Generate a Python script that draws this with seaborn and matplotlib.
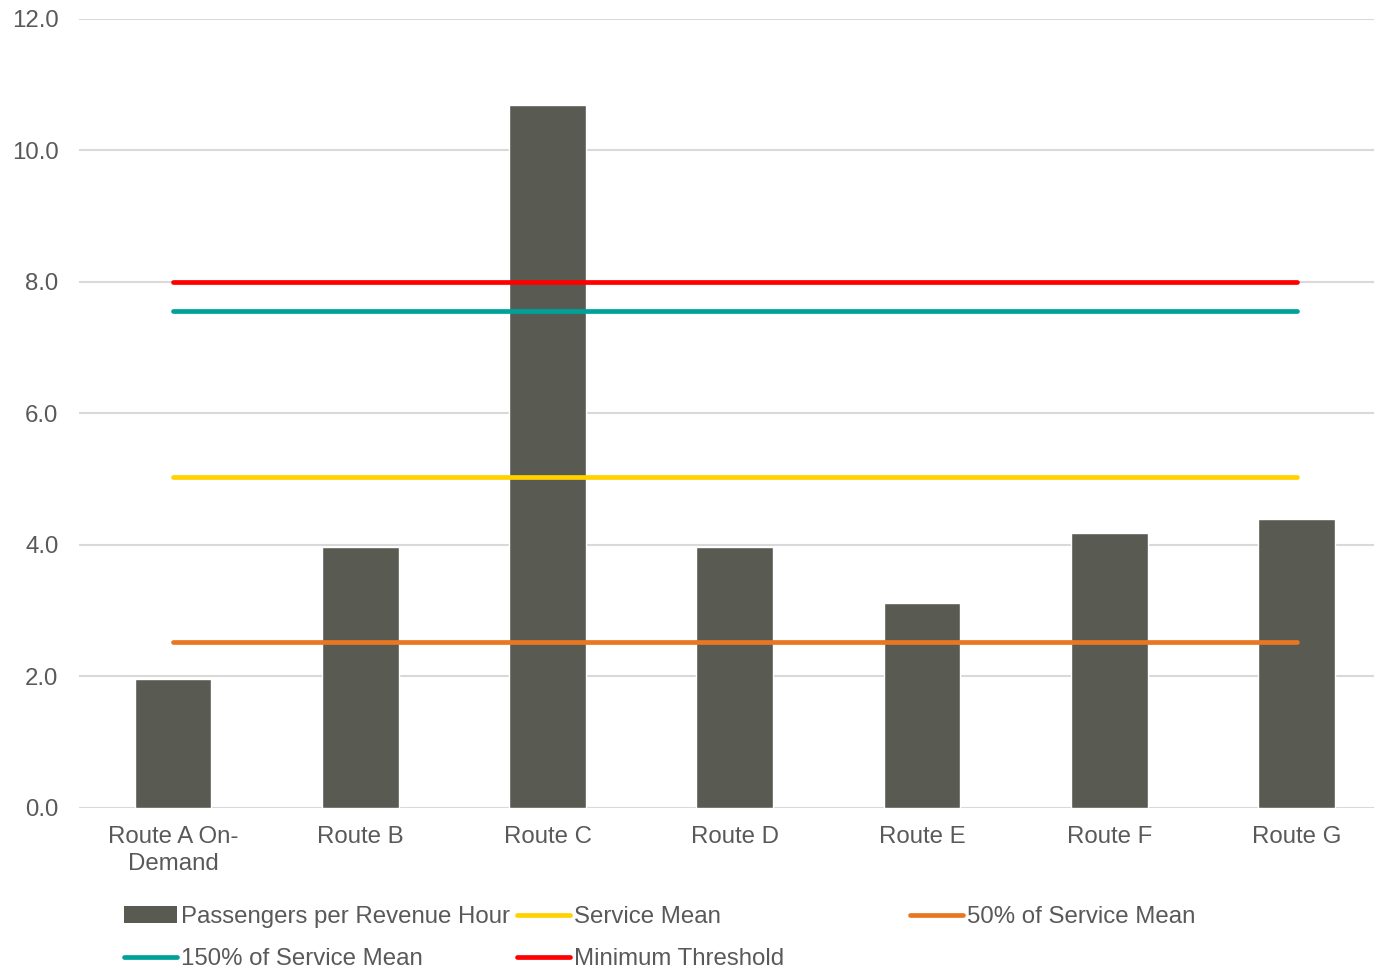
import numpy as np
import matplotlib
matplotlib.use("Agg")
import matplotlib.pyplot as plt
import seaborn as sns
from matplotlib.patches import Patch
from matplotlib.lines import Line2D

routes = ["Route A On-\nDemand", "Route B", "Route C", "Route D",
          "Route E", "Route F", "Route G"]
pax_per_hour = [1.96, 3.97, 10.69, 3.97, 3.11, 4.18, 4.40]

service_mean = 5.04
half_mean = 2.52
one_half_mean = 7.56
min_threshold = 8.0

bar_color = "#595A52"
text_color = "#595959"
fs = 17.3

sns.set_theme(style="white")
plt.rcParams["font.family"] = ["Liberation Sans", "DejaVu Sans"]

fig = plt.figure(figsize=(13.74, 9.69), dpi=100)
ax = fig.add_axes([0.0578, 0.1662, 0.954, 0.8142])

sns.barplot(x=routes, y=pax_per_hour, color=bar_color, saturation=1,
            width=0.41, ax=ax, zorder=2)

xs = np.arange(len(routes))
ref_lines = [
    (service_mean, "#FFD200", "Service Mean"),
    (half_mean, "#E87722", "50% of Service Mean"),
    (one_half_mean, "#00A19A", "150% of Service Mean"),
    (min_threshold, "#FF0000", "Minimum Threshold"),
]
for val, col, lab in ref_lines:
    ax.plot(xs, np.full(len(xs), val), color=col, lw=3.4,
            solid_capstyle="round", zorder=3)

ax.set_ylim(0, 12)
ax.set_xlim(-0.5, len(routes) - 0.5)
ax.set_yticks(np.arange(0, 12.1, 2))
ax.set_yticklabels([f"{v:.1f}" for v in np.arange(0, 12.1, 2)])
ax.grid(axis="y", color="#D9D9D9", lw=1.5, zorder=0)
ax.set_axisbelow(True)
for s in ax.spines.values():
    s.set_visible(False)
ax.tick_params(axis="y", length=0, pad=15, labelsize=fs, labelcolor=text_color)
ax.tick_params(axis="x", length=0, pad=13, labelsize=fs, labelcolor=text_color)
for t in ax.get_xticklabels():
    t.set_linespacing(1.3)
ax.set_xlabel("")
ax.set_ylabel("")

# legend: three columns placed like Excel's equal-width layout
h_bar = Patch(facecolor=bar_color, edgecolor="none")
h = {lab: Line2D([], [], color=col, lw=3.4, solid_capstyle="round")
     for _, col, lab in ref_lines}
cols = [
    ([h_bar, h["150% of Service Mean"]],
     ["Passengers per Revenue Hour", "150% of Service Mean"], 124),
    ([h["Service Mean"], h["Minimum Threshold"]],
     ["Service Mean", "Minimum Threshold"], 517),
    ([h["50% of Service Mean"]], ["50% of Service Mean"], 910),
]
W, H = 1374, 969
for handles, labels, xpx in cols:
    fig.legend(handles, labels, loc="upper left",
               bbox_to_anchor=(xpx / W, 1 - 906 / H),
               frameon=False, fontsize=fs, labelcolor=text_color,
               handlelength=2.22, handletextpad=0.17, borderpad=0,
               borderaxespad=0, labelspacing=0.85)

fig.savefig("out.png", dpi=100)
